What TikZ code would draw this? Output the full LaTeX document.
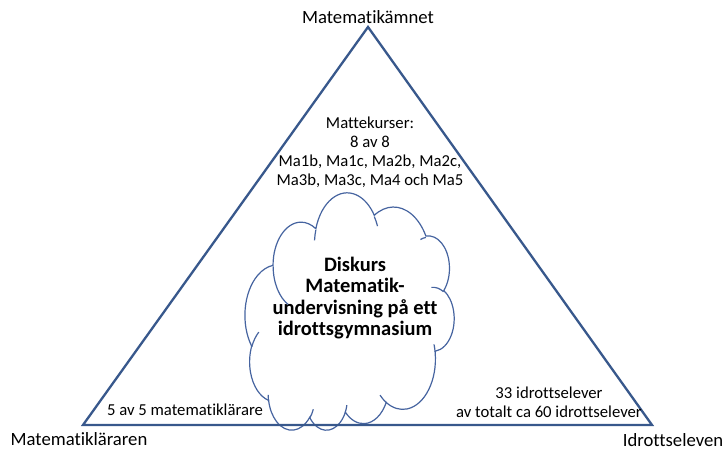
\documentclass[tikz,border=0pt]{standalone}
\usepackage{fontspec}
\setmainfont{Carlito}[Ligatures=NoCommon]
\definecolor{triblue}{RGB}{56,88,140}
\definecolor{cloudblue}{RGB}{70,100,160}
\newcommand\cloudang[4]{%
  \pgfmathsetmacro\cldTmpA{atan2(sin(#3)/#2, cos(#3)/#1)}%
  \pgfmathsetmacro\cldTmpB{atan2(sin(#3+#4)/#2, cos(#3+#4)/#1)}%
  \pgfmathsetmacro\cldTmpD{\cldTmpB-\cldTmpA}%
  \pgfmathsetmacro\cldTmpD{\cldTmpD+360*round((#4-\cldTmpD)/360)}%
  \xdef\cldStart{\cldTmpA}\xdef\cldDelta{\cldTmpD}}
\newcommand\carc[4]{\pgfextra{\cloudang{#1}{#2}{#3}{#4}} arc[start angle=\cldStart, delta angle=\cldDelta, x radius=#1pt, y radius=#2pt]}
\tikzset{
  triline/.style={draw=triblue, line width=2.3pt},
  cloudline/.style={draw=cloudblue, line width=1.2pt},
  lbl/.style={font=\fontsize{18.7}{21}\selectfont, text=black, inner sep=0pt},
  small/.style={font=\fontsize{16.7}{19}\selectfont, text=black, align=center, inner sep=0pt},
  bold/.style={font=\fontsize{20.5}{21.6}\selectfont\bfseries, text=black, align=center, inner sep=0pt}
}
\begin{document}
\begin{tikzpicture}[x=1pt, y=-1pt]
\useasboundingbox[fill=white] (0,0) rectangle (726,450);
% cloud (Office cloud, turned by 180 degrees)
\begin{scope}[shift={(245,194)}, x=1pt, y=1pt, xscale=0.4838, yscale=-0.5486, rotate around={180:(216,216)}]
\draw[cloudline, fill=white] (39.00,143.70)
  \carc{67.53}{91.90}{-190.487}{123.780}
  \carc{53.33}{72.67}{-144.102}{89.945}
  \carc{43.65}{59.45}{-145.808}{99.723}
  \carc{48.57}{65.95}{-130.986}{117.242}
  \carc{53.33}{72.73}{-78.709}{109.027}
  \carc{67.75}{92.20}{-46.267}{130.269}
  \carc{57.85}{78.67}{0.625}{114.033}
  \carc{67.52}{92.15}{22.452}{115.173}
  \carc{77.20}{105.43}{66.243}{75.711}
  \carc{43.60}{59.18}{-274.942}{146.736}
  \carc{43.45}{59.45}{-246.829}{152.519}
  -- cycle;
\draw[cloudline]
  (46.93,261.77) \carc{43.45}{59.45}{86.742}{26.430}
  (69.28,348.99) \carc{43.60}{59.18}{73.610}{11.447}
  (164.78,390.90) \carc{67.52}{92.15}{137.624}{14.081}
  (288.27,347.51) \carc{67.52}{92.15}{6.453}{15.998}
  (341.29,229.54) \carc{57.85}{78.67}{-70.292}{70.917}
  (417.98,153.54) \carc{53.33}{72.73}{30.318}{27.752}
  (383.24,54.26) \carc{48.57}{65.95}{-13.744}{14.859}
  (290.78,39.52) \carc{48.57}{65.95}{-149.181}{18.195}
  (221.41,47.20) \carc{43.65}{59.45}{-163.494}{17.686}
  (140.00,51.92) \carc{67.53}{91.90}{-66.707}{12.319}
  (41.27,157.89) \carc{67.53}{91.90}{157.654}{11.858};
\end{scope}
% triangle
\coordinate (A) at (368,27);
\coordinate (B) at (83,425);
\coordinate (C) at (652,425);
\draw[triline] (A) -- (B) -- (C) -- cycle;
% labels
\node[lbl] (top) at (368,17) {Matematikämnet};
\node[lbl] (left) at (79,439) {Matematikläraren};
\node[lbl] (right) at (673,440) {Idrottseleven};
\node[small] (kurser) at (370,152) {Mattekurser:\\8 av 8\\Ma1b, Ma1c, Ma2b, Ma2c,\\Ma3b, Ma3c, Ma4 och Ma5};
\node[bold] (disk) at (355,298) {Diskurs\\Matematik-\\undervisning på ett\\idrottsgymnasium};
\node[small] (larare) at (185,410) {5 av 5 matematiklärare};
\node[small] (elever) at (549,402) {33 idrottselever\\av totalt ca 60 idrottselever};
\end{tikzpicture}
\end{document}
